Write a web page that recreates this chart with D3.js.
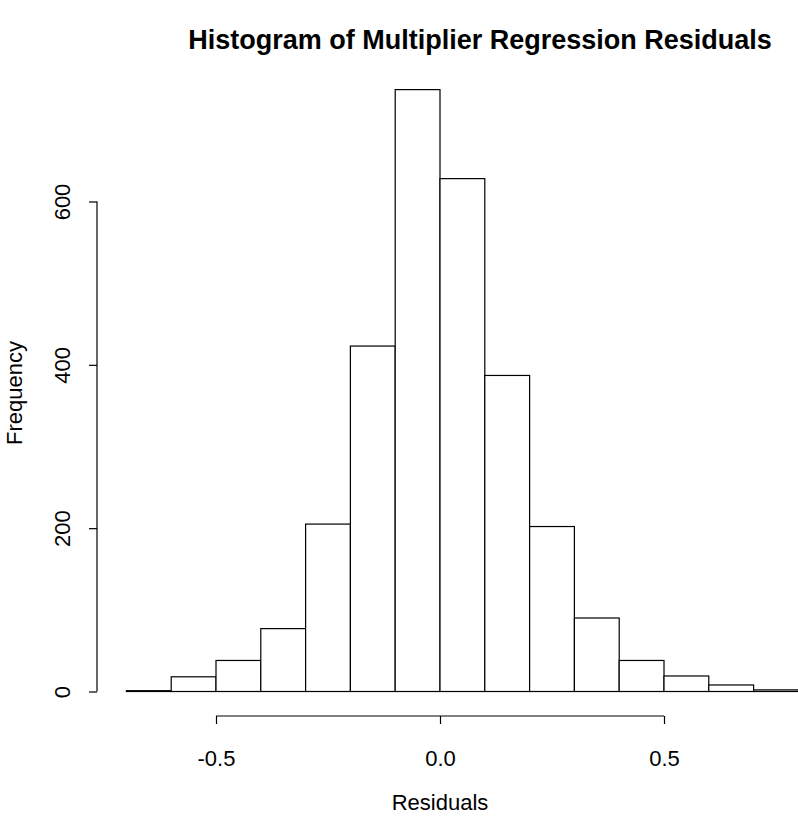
<!DOCTYPE html>
<html>
<head>
<meta charset="utf-8">
<script src="https://cdn.jsdelivr.net/npm/d3@7"></script>
<style>
  html, body { margin: 0; padding: 0; background: #fff; }
  svg { display: block; }
  text { font-family: "Liberation Sans", Arial, Helvetica, sans-serif; fill: #000; }
</style>
</head>
<body>
<svg id="chart" width="798" height="816"></svg>
<script>
// Histogram bins (left edges, width 0.1) and their counts
const binStarts = [-0.7, -0.6, -0.5, -0.4, -0.3, -0.2, -0.1, 0.0, 0.1, 0.2, 0.3, 0.4, 0.5, 0.6, 0.7];
const binWidth = 0.1;
const counts = [1, 18, 38, 77, 205, 423, 737, 628, 387, 202, 90, 38, 19, 8, 2];
const xTicks = [-0.5, 0.0, 0.5];
const yTicks = [0, 200, 400, 600];
const title = "Histogram of Multiplier Regression Residuals";
const xLabel = "Residuals";
const yLabel = "Frequency";

const svg = d3.select("#chart");
const FONT = "Liberation Sans, Arial, sans-serif";
const AXIS_FS = 22;

const x = d3.scaleLinear().domain([-0.5, 0.5]).range([216, 664]);
const y = d3.scaleLinear().domain([0, 600]).range([691.5, 201.5]);

const axisLeftX = 97;
const axisBottomY = 716;

// Bars
svg.append("g")
  .selectAll("rect")
  .data(binStarts.map((s, i) => ({ x0: s, x1: s + binWidth, n: counts[i] })))
  .join("rect")
  .attr("x", d => x(d.x0))
  .attr("y", d => y(d.n))
  .attr("width", d => x(d.x1) - x(d.x0))
  .attr("height", d => y(0) - y(d.n))
  .attr("fill", "#fff")
  .attr("stroke", "#000")
  .attr("stroke-width", 1.2);

// Tick labels use a plain hyphen for negatives
const fmt1 = v => d3.format(".1f")(v).replace("\u2212", "-");

// Bottom axis
const xAxis = d3.axisBottom(x)
  .tickValues(xTicks)
  .tickFormat(fmt1)
  .tickSizeInner(8)
  .tickSizeOuter(0)
  .tickPadding(26);
const gx = svg.append("g")
  .attr("transform", `translate(0,${axisBottomY})`)
  .call(xAxis);
gx.select(".domain").attr("d", `M${x(-0.5)},0H${x(0.5)}`);
gx.selectAll("line, path").attr("stroke", "#000").attr("stroke-width", 1.2);
gx.selectAll("text").attr("font-size", AXIS_FS).attr("font-family", FONT);

// Left axis with rotated labels
const yAxis = d3.axisLeft(y)
  .tickValues(yTicks)
  .tickSizeInner(8)
  .tickSizeOuter(0)
  .tickFormat(d3.format("d"));
const gy = svg.append("g")
  .attr("transform", `translate(${axisLeftX},0)`)
  .call(yAxis);
gy.select(".domain").attr("d", `M0,${y(0)}V${y(600)}`);
gy.selectAll("line, path").attr("stroke", "#000").attr("stroke-width", 1.2);
gy.selectAll(".tick text")
  .attr("font-size", AXIS_FS)
  .attr("font-family", FONT)
  .attr("x", null)
  .attr("text-anchor", "middle")
  .attr("transform", "translate(-35,0) rotate(-90)")
  .attr("dy", "0.35em");

// Titles
svg.append("text")
  .attr("x", 480).attr("y", 49)
  .attr("text-anchor", "middle")
  .attr("font-size", 27)
  .attr("font-weight", "bold")
  .text(title);

svg.append("text")
  .attr("x", 440).attr("y", 810)
  .attr("text-anchor", "middle")
  .attr("font-size", AXIS_FS)
  .text(xLabel);

svg.append("text")
  .attr("transform", `translate(14,393) rotate(-90)`)
  .attr("text-anchor", "middle")
  .attr("dy", "0.35em")
  .attr("font-size", AXIS_FS)
  .text(yLabel);
</script>
</body>
</html>
